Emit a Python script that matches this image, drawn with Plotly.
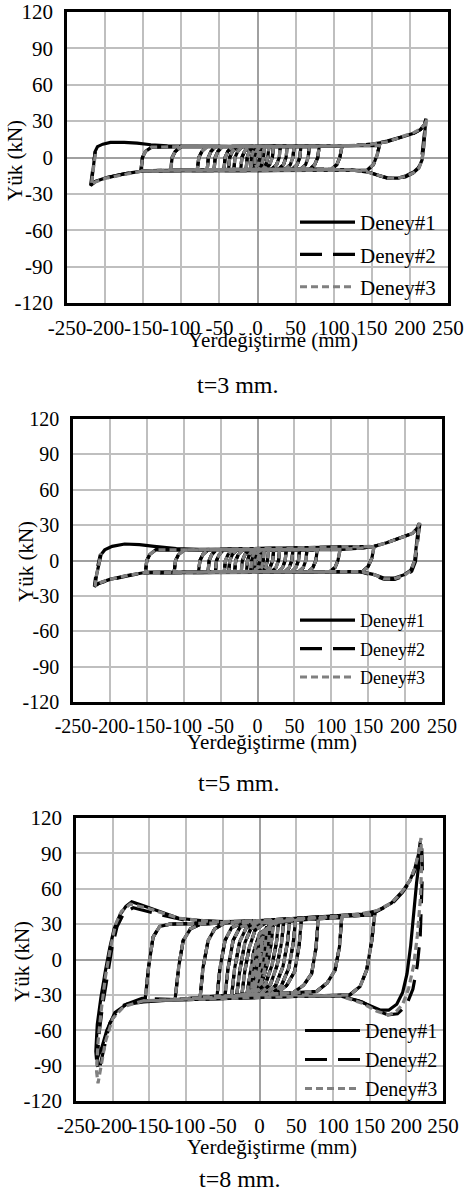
import plotly.graph_objects as go

# ---------------- data (x: Yerdeğiştirme mm, y: Yük kN) ----------------
# t = 3 mm : inner cycles (all three tests overlap)
t3_inner_x = [0, 2, 4, 3, 1, -4, -3, -1, 3,
              9, 8, 5, 1, -9, -8, -5, -1,
              15, 13.5, 11, 7, -15, -13.5, -11, -6,
              21, 19.5, 16, 11, -22, -20.5, -17, -12,
              30, 28.5, 25, 19, -31, -29.5, -26, -20,
              39, 37.5, 34, 28, -38, -36.5, -33, -27,
              48, 46.5, 43, 37, -44, -42.5, -39, -33,
              57, 55.5, 52, 46, -57, -55.5, -52, -46,
              68, 66.5, 63, 57, -66, -64.5, -61, -55,
              81, 79, 75, 69, -79, -77, -73, -66,
              111, 108, 104, 97, -114, -112, -108, -100,
              160, 157, 152, 144, -153, -151, -147, -139]
t3_inner_y = [0, 5, 7, 0, -6, -8, 0, 6, 8,
              9, 0, -7, -9.5, -9.5, 0, 6, 9,
              9, 0, -6, -9.5, -10, 0, 5, 9,
              9, 0, -6, -9.5, -10, 0, 5, 9,
              9, 0, -6, -9.5, -10, 0, 5, 9,
              9, 0, -6, -9.5, -10, 0, 5, 9,
              9, 0, -6, -9.5, -10, 0, 5, 9,
              9, 0, -6, -9.5, -10, 0, 5, 9,
              9, 0, -6, -9.5, -10, 0, 5, 9,
              9, 0, -6, -9.5, -10, 0, 5, 9,
              9.5, 0, -6, -9.5, -10.5, 0, 5, 9,
              10, 2, -6, -10.5, -11, 0, 5, 8.5]
# t = 3 mm : last (largest) cycle of each test
t3_d1_x = [-100, 0, 60, 100, 130, 150, 170, 190, 205, 214, 219, 221, 220, 218, 216, 212, 205, 195, 185, 172, 160, 145, 120, 60, 0, -60, -120, -150, -175, -198, -212, -218, -216, -214, -213, -210, -203, -193, -175, -158, -140, -118, -60, 0]
t3_d1_y = [9, 9, 9, 9.5, 10, 11, 13, 17, 20, 23, 27, 32, 22, 8, -2, -8, -12, -15, -17, -17, -15, -12, -10, -10, -10, -10, -10.5, -11, -13.5, -16.5, -19.5, -22, -12, -2, 5, 9, 11, 12.4, 12.5, 11.8, 10.5, 9.6, 9, 9]
t3_d2_x = [-100, 0, 60, 100, 130, 150, 170, 190, 205, 214, 219, 221, 219, 217, 215, 211, 204, 194, 183, 170, 158, 143, 120, 60, 0, -60, -120, -150, -175, -200, -213, -219, -217, -215, -213]
t3_d2_y = [9, 9, 9, 9.5, 10, 11, 13.5, 17, 20, 23, 27, 31, 20, 6, -3, -9, -13, -16, -17.5, -17, -14.5, -11.5, -10, -10, -10, -10, -10.5, -11, -13.5, -17, -20, -23, -13, -3, 5]
t3_d3_x = [-100, 0, 60, 100, 130, 150, 170, 190, 205, 214, 219, 222, 220, 218, 216, 212, 205, 195, 184, 171, 159, 144, 120, 60, 0, -60, -120, -150, -176, -199, -212, -218, -216, -214, -212]
t3_d3_y = [9, 9, 9, 9.5, 10, 11, 13, 17, 20.5, 23.5, 27, 32, 21, 7, -2, -8.5, -12.5, -15.5, -17, -17, -15, -12, -10, -10, -10, -10, -10.5, -11, -14, -17, -20, -22.5, -12, -2, 6]

# t = 5 mm
t5_inner_x = [0, 2, 4, 3, 1, -4, -3, -1, 3,
              9, 8, 5, 1, -9, -8, -5, -1,
              15, 13.5, 11, 7, -15, -13.5, -11, -6,
              22, 20.5, 17, 12, -22, -20.5, -17, -12,
              30, 28.5, 25, 19, -31, -29.5, -26, -20,
              39, 37.5, 34, 28, -39, -37.5, -34, -28,
              48, 46.5, 43, 37, -45, -43.5, -40, -34,
              57, 55.5, 52, 46, -57, -55.5, -52, -46,
              67, 65.5, 62, 56, -67, -65.5, -62, -56,
              81, 79, 75, 69, -80, -78, -74, -67,
              112, 109, 105, 98, -113, -111, -107, -99,
              158, 155, 150, 142, -152, -150, -146, -138]
t5_inner_y = [0, 5, 7, 0, -6, -8, 0, 6, 8,
              9, 0, -7, -9.5, -9.5, 0, 6, 9,
              9, 0, -6, -9.5, -9.5, 0, 5, 9,
              9, 0, -6, -9.5, -9.5, 0, 5, 9,
              9, 0, -6, -9.5, -9.5, 0, 5, 9,
              9, 0, -6, -9.5, -9.5, 0, 5, 9,
              9, 0, -6, -9.5, -9.5, 0, 5, 9,
              9, 0, -6, -9.5, -9.5, 0, 5, 9,
              9, 0, -6, -9.5, -9.5, 0, 5, 9,
              9, 0, -6, -9.5, -10, 0, 5, 9,
              9.5, 0, -6, -9.5, -10, 0, 5, 9,
              12, 2, -5, -9.5, -10.5, 0, 5, 9]
t5_d1_x = [-100, 0, 44, 112, 140, 158, 175, 199, 210, 216, 219, 217, 213, 208, 199, 185, 172, 158, 140, 100, 0, -100, -150, -175, -200, -214, -220, -218, -215, -212, -207, -197, -180, -160, -140, -110, -60, 0]
t5_d1_y = [9, 9, 9, 9.5, 10.5, 12, 15, 20, 23, 27, 31.5, 23, 0, -8, -12, -15, -15, -12, -9.5, -9.5, -9.5, -9.5, -10, -12.5, -16, -19, -21, -12, -2, 5, 9, 12, 14, 13.5, 12, 10, 9, 9]
t5_d2_x = [-100, 0, 44, 112, 140, 158, 175, 199, 210, 216, 220, 218, 214, 209, 200, 186, 172, 157, 139, 100, 0, -100, -150, -176, -201, -215, -221, -219, -216, -213]
t5_d2_y = [9, 9, 9, 9.5, 10.5, 12, 15, 20, 23, 27, 31, 22, -1, -9, -13, -16, -16, -12.5, -9.5, -9.5, -9.5, -9.5, -10, -13, -16.5, -19.5, -22, -12, -2, 5]
t5_d3_x = [-100, 0, 44, 112, 140, 158, 175, 199, 210, 216, 220, 218, 213, 208, 199, 185, 171, 158, 140, 100, 0, -100, -150, -175, -200, -214, -220, -218, -215, -212]
t5_d3_y = [9, 9, 9, 9.5, 10.5, 12, 15, 20, 23, 27, 32, 23, 0, -8.5, -12.5, -15.5, -15.5, -12, -9.5, -9.5, -9.5, -9.5, -10, -12.5, -16, -19, -21.5, -12, -2, 6]

# t = 8 mm
t8_inner_x = [0, 3, 5, 3, 0, -5, -3, 0,
              6, 10, 8, 4, -2, -8, -6, -2, 4,
              14, 12, 8, 2, -11, -9, -5, 1,
              19, 16, 11, 3, -17, -13, -8, 0,
              26, 23, 17, 8, -6, -24, -20, -14, -6, 8,
              33, 30, 24, 15, 1, -31, -27, -20, -12, 2,
              41, 38, 32, 22, 8, -38, -34, -27, -18, -4,
              49, 46, 40, 30, 16, -47, -43, -36, -27, -13,
              57, 54, 48, 37, 23, -58, -54, -47, -38, -24,
              80, 77, 71, 60, 46, -81, -77, -70, -61, -47,
              112, 109, 103, 92, 78, -115, -110, -104, -94, -80,
              157, 153, 146, 137, 123, -156, -151, -145, -136, -122]
t8_inner_y = [0, 12, 20, 5, -8, -20, -5, 8,
              22, 28, 12, -5, -18, -26, -10, 6, 20,
              30, 12, -5, -20, -28, -10, 8, 22,
              31, 14, -4, -20, -29, -12, 6, 22,
              32, 14, -5, -21, -28, -30, -10, 10, 25, 31,
              32, 14, -5, -21, -29, -30, -10, 14, 26, 31,
              33, 14, -6, -22, -29, -31, -8, 15, 27, 31,
              33, 14, -7, -22, -29, -31, -8, 16, 27, 31,
              33.5, 12, -10, -22, -29, -32, -8, 16, 27, 31,
              34.5, 10, -12, -22, -28, -33, -7, 16, 26, 31,
              35.5, 11, -9, -20, -27, -34, -6, 16, 26, 30,
              38, 16, -9, -23, -30, -35, -6, 19, 28, 30]
t8_d1_x = [-60, 0, 50, 100, 140, 160, 180, 195, 205, 212, 217, 219, 218, 214, 210, 206, 201, 195, 187, 176, 165, 150, 135, 110, 50, 0, -60, -113, -158, -181, -197, -208, -215, -222, -223, -221, -216, -210, -204, -198, -190, -182, -174, -160, -136, -110, -80, -40, 0]
t8_d1_y = [31, 33, 35, 36.5, 38.5, 41, 48, 58, 67, 78, 90, 100, 85, 65, 40, 12, -12, -28, -38, -43, -43, -39, -35, -31, -30, -30, -31, -34, -36, -38, -45, -60, -75, -85, -78, -55, -32, -10, 10, 26, 38, 45, 49, 46, 41, 35, 33, 32, 33]
t8_d2_x = [-60, 0, 50, 100, 140, 160, 180, 195, 205, 212, 217, 221, 222, 221, 219, 215, 209, 200, 188, 175, 160, 140, 110, 50, 0, -60, -113, -160, -190, -204, -213, -219, -221, -219, -214, -208, -201, -194, -185, -172, -136, -99, -50, 0]
t8_d2_y = [31, 33, 35, 36.5, 38.5, 41, 47, 57, 66, 76, 87, 96, 75, 50, 20, -5, -25, -39, -46, -47, -43, -36, -31, -30, -30, -31, -34, -33, -40, -54, -77, -95, -88, -65, -40, -15, 10, 28, 39, 44, 38, 33, 32, 33]
t8_d3_x = [-60, 0, 50, 100, 140, 160, 180, 195, 205, 212, 217, 220, 221, 219, 215, 210, 203, 195, 185, 175, 160, 140, 110, 50, 0, -60, -113, -158, -185, -200, -210, -216, -220, -222, -220, -216, -210, -203, -196, -188, -176, -150, -110, -60, 0]
t8_d3_y = [31, 33, 35, 36.5, 39, 41.5, 48, 58, 67, 78, 91, 103, 80, 50, 20, -5, -25, -38, -45, -47, -44, -37, -31, -30, -30, -31, -34, -35, -40, -50, -70, -90, -105, -95, -70, -45, -15, 10, 30, 41, 47, 43, 35, 32, 33]

series_names = ["Deney#1", "Deney#2", "Deney#3"]
series_colors = ["#000000", "#000000", "#808080"]
series_dash = ["solid", "22px,11px", "7px,4px"]

x_ticks = [-250, -200, -150, -100, -50, 0, 50, 100, 150, 200, 250]
x_ticktext = ["-250", "-200", "-150", "-100", "-50", "0", "50", "100", "150", "200", "250"]
y_ticks = [-120, -90, -60, -30, 0, 30, 60, 90, 120]
y_ticktext = ["-120", "-90", "-60", "-30", "0", "30", "60", "90", "120"]
captions = ["t=3 mm.", "t=5 mm.", "t=8 mm."]

panels = [
    (t3_inner_x, t3_inner_y, [(t3_d1_x, t3_d1_y), (t3_d2_x, t3_d2_y), (t3_d3_x, t3_d3_y)]),
    (t5_inner_x, t5_inner_y, [(t5_d1_x, t5_d1_y), (t5_d2_x, t5_d2_y), (t5_d3_x, t5_d3_y)]),
    (t8_inner_x, t8_inner_y, [(t8_d1_x, t8_d1_y), (t8_d2_x, t8_d2_y), (t8_d3_x, t8_d3_y)]),
]

W, H = 464, 1198
# plot areas in pixels: left, right, top, bottom
areas = [(67, 448, 12, 303), (73, 442, 419, 702), (76, 443, 818, 1101)]
tick_sizes = [21, 20, 21]
legend_font = [21, 18, 20]
legend_gap = [2, 2, 0]
legend_pos = [(295, 202), (295, 602), (300, 1011)]
xtitle_pos = [(273, 340), (272, 742), (272, 1147)]
ytitle_pos = [(15, 161), (26, 562), (22, 962)]
caption_pos = [(238, 385), (239, 783), (240, 1179)]

SERIF = "Liberation Serif"
fig = go.Figure()
layout = dict(width=W, height=H, margin=dict(l=0, r=0, t=0, b=0, autoexpand=False),
              paper_bgcolor="white", plot_bgcolor="white", showlegend=True)
annotations = []

for p, (ix, iy, outers) in enumerate(panels):
    sfx = "" if p == 0 else str(p + 1)
    lg = "legend" if p == 0 else "legend" + str(p + 1)
    for s in range(3):
        ox, oy = outers[s]
        fig.add_trace(go.Scatter(
            x=ix + ox, y=iy + oy, mode="lines", name=series_names[s],
            line=dict(color=series_colors[s], width=3.2, dash=series_dash[s]),
            xaxis="x" + sfx, yaxis="y" + sfx, legend=lg,
            legendgroup=f"p{p}s{s}", showlegend=True))
    l, r, t, b = areas[p]
    common = dict(showgrid=True, gridcolor="#bfbfbf", gridwidth=1.5,
                  zeroline=True, zerolinecolor="#a0a0a0", zerolinewidth=1.5,
                  showline=True, linecolor="black", linewidth=2.5, mirror=True,
                  automargin=False, ticks="",
                  tickfont=dict(family=SERIF, size=tick_sizes[p], color="black"))
    layout["xaxis" + sfx] = dict(common, domain=[l / W, r / W], range=[-250, 250],
                                 tickmode="array", tickvals=x_ticks, ticktext=x_ticktext,
                                 tickangle=0, ticklabelstandoff=4, anchor="y" + sfx)
    layout["yaxis" + sfx] = dict(common, domain=[1 - b / H, 1 - t / H], range=[-120, 120],
                                 tickmode="array", tickvals=y_ticks, ticktext=y_ticktext,
                                 ticklabelstandoff=7, anchor="x" + sfx)
    lx, ly = legend_pos[p]
    layout[lg] = dict(x=lx / W, y=1 - ly / H, xanchor="left", yanchor="top",
                      bgcolor="rgba(0,0,0,0)", borderwidth=0, itemwidth=55,
                      font=dict(family=SERIF, size=legend_font[p], color="black"),
                      tracegroupgap=legend_gap[p])
    xx, xy = xtitle_pos[p]
    annotations.append(dict(text="Yerdeğiştirme (mm)", x=xx / W, y=1 - xy / H,
                            xref="paper", yref="paper", showarrow=False,
                            xanchor="center", yanchor="middle",
                            font=dict(family=SERIF, size=21, color="black")))
    yx, yy = ytitle_pos[p]
    annotations.append(dict(text="Yük (kN)", x=yx / W, y=1 - yy / H,
                            xref="paper", yref="paper", showarrow=False, textangle=-90,
                            xanchor="center", yanchor="middle",
                            font=dict(family=SERIF, size=21, color="black")))
    cx, cy = caption_pos[p]
    annotations.append(dict(text=captions[p], x=cx / W, y=1 - cy / H,
                            xref="paper", yref="paper", showarrow=False,
                            xanchor="center", yanchor="middle",
                            font=dict(family=SERIF, size=24, color="black")))

layout["annotations"] = annotations
fig.update_layout(**layout)
fig.write_html("out.html")
